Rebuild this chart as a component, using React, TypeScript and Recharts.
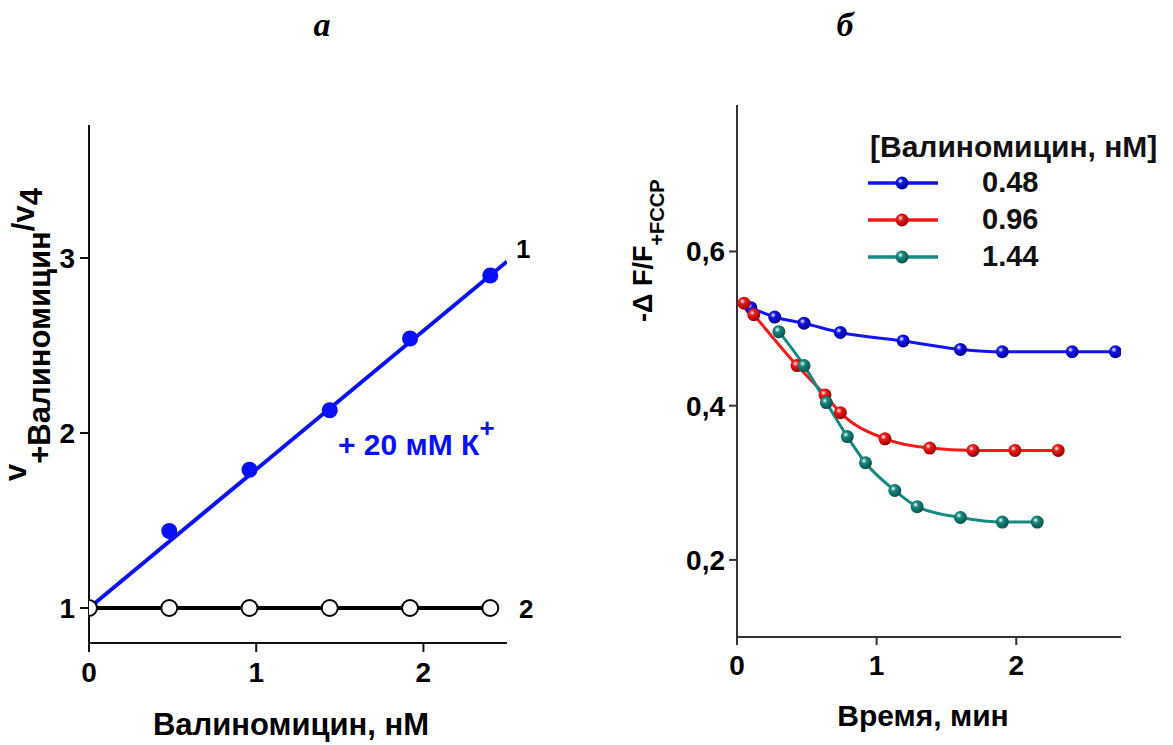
import React from 'react';
import { Line, LineChart, XAxis, YAxis } from 'recharts';

// panel a: ratio of rates vs valinomycin concentration
const valinoWithK = [0.48, 0.96, 1.44, 1.92, 2.4];
const ratioWithK = [1.44, 1.79, 2.13, 2.54, 2.9];
const fitValino = [0, 2.5];
const fitRatio = [1.0, 2.98];
const valinoNoK = [0, 0.48, 0.96, 1.44, 1.92, 2.4];
const ratioNoK = [1, 1, 1, 1, 1, 1];
const ticksA_X = [0, 1, 2];
const ticksA_Y = [1, 2, 3];

// panel б: -dF/F vs time
const time048 = [0.1, 0.27, 0.48, 0.74, 1.19, 1.6, 1.9, 2.4, 2.71];
const signal048 = [0.527, 0.515, 0.507, 0.495, 0.484, 0.473, 0.47, 0.47, 0.47];
const time096 = [0.05, 0.12, 0.43, 0.63, 0.74, 1.06, 1.38, 1.69, 1.99, 2.3];
const signal096 = [0.533, 0.518, 0.452, 0.414, 0.391, 0.357, 0.345, 0.342, 0.342, 0.342];
const time144 = [0.3, 0.48, 0.64, 0.79, 0.92, 1.13, 1.29, 1.6, 1.9, 2.15];
const signal144 = [0.496, 0.452, 0.404, 0.36, 0.326, 0.29, 0.269, 0.255, 0.249, 0.249];
const ticksB_X = [0, 1, 2];
const ticksB_Y = [0.2, 0.4, 0.6];
const seriesLabels = ['0.48', '0.96', '1.44'];

const zip = (xs: number[], ys: number[]) => xs.map((x, i) => ({ x, y: ys[i] }));

const FONT = '"Liberation Sans", Arial, sans-serif';
const BLUE_A = '#0a10f5';
const COLORS = ['#1414f0', '#f51a1a', '#168a80'];
const SHADE = ['#00007a', '#8a0000', '#064a44'];

const fmtComma = (v: number) => v.toFixed(1).replace('.', ',');

function XTick(props: any) {
  const { x, y, payload } = props;
  return (
    <text x={x} y={y + 24} textAnchor="middle" fontFamily={FONT} fontWeight={700} fontSize={28} fill="#000">
      {payload.value}
    </text>
  );
}

function YTick(props: any) {
  const { x, y, payload, comma } = props;
  return (
    <text x={x} y={y + 10} textAnchor="end" fontFamily={FONT} fontWeight={700} fontSize={28} fill="#000">
      {comma ? fmtComma(payload.value) : payload.value}
    </text>
  );
}

function sphereDot(idx: number, r: number) {
  return (props: any) => {
    const { cx, cy, index } = props;
    if (cx == null || cy == null) return <g key={`e${idx}-${index}`} />;
    return (
      <circle key={`d${idx}-${index}`} cx={cx} cy={cy} r={r} fill={`url(#sph${idx})`} />
    );
  };
}

function Gradients() {
  return (
    <svg width={0} height={0} style={{ position: 'absolute' }}>
      <defs>
        {COLORS.map((c, i) => (
          <radialGradient key={c} id={`sph${i}`} cx="38%" cy="35%" r="70%">
            <stop offset="0%" stopColor="#ffffff" stopOpacity={0.95} />
            <stop offset="30%" stopColor={c} />
            <stop offset="100%" stopColor={SHADE[i]} />
          </radialGradient>
        ))}
      </defs>
    </svg>
  );
}

function LegendBox() {
  return (
    <div style={{ position: 'absolute', left: 864, top: 130, fontFamily: FONT, fontWeight: 700, color: '#111' }}>
      <div style={{ fontSize: 30, lineHeight: '34px', marginLeft: 6 }}>[Валиномицин, нМ]</div>
      {seriesLabels.map((lab, i) => (
        <div key={lab} style={{ display: 'flex', alignItems: 'center', height: 37 }}>
          <svg width={76} height={16}>
            <line x1={4} y1={8} x2={74} y2={8} stroke={COLORS[i]} strokeWidth={3.5} />
            <circle cx={38} cy={8} r={6.5} fill={`url(#sph${i})`} />
          </svg>
          <span style={{ fontSize: 29, marginLeft: 42 }}>{lab}</span>
        </div>
      ))}
    </div>
  );
}

export default function App() {
  const axisLine = { stroke: '#111', strokeWidth: 2 };
  const axisLineB = { stroke: '#333', strokeWidth: 2 };
  return (
    <div style={{ position: 'absolute', left: 0, top: 0, width: 1173, height: 745, background: '#fff' }}>
      <Gradients />
      <div style={{ position: 'absolute', left: 0, top: 0 }}>
        <LineChart width={600} height={745} margin={{ top: 125, right: 93, bottom: 42, left: 29 }}>
          <XAxis
            type="number"
            dataKey="x"
            domain={[0, 2.5]}
            ticks={ticksA_X}
            allowDataOverflow
            height={60}
            tickSize={9}
            tickMargin={6}
            axisLine={axisLine}
            tickLine={axisLine}
            tick={<XTick />}
          />
          <YAxis
            type="number"
            dataKey="y"
            domain={[0.8, 3.76]}
            ticks={ticksA_Y}
            allowDataOverflow
            width={60}
            tickSize={9}
            tickMargin={5}
            axisLine={axisLine}
            tickLine={axisLine}
            tick={<YTick />}
          />
          <Line
            data={zip(fitValino, fitRatio)}
            dataKey="y"
            type="linear"
            stroke={BLUE_A}
            strokeWidth={4}
            dot={false}
            isAnimationActive={false}
          />
          <Line
            data={zip(valinoWithK, ratioWithK)}
            dataKey="y"
            stroke="none"
            dot={{ r: 8, fill: BLUE_A, stroke: BLUE_A, strokeWidth: 0 }}
            isAnimationActive={false}
          />
          <Line
            data={zip(valinoNoK, ratioNoK)}
            dataKey="y"
            type="linear"
            stroke="#000"
            strokeWidth={4}
            dot={{ r: 8, fill: '#fff', stroke: '#000', strokeWidth: 2 }}
            isAnimationActive={false}
          />
        </LineChart>
      </div>

      <div style={{ position: 'absolute', left: 600, top: 0 }}>
        <LineChart width={573} height={745} margin={{ top: 105, right: 52, bottom: 58, left: 67 }}>
          <XAxis
            type="number"
            dataKey="x"
            domain={[0, 2.75]}
            ticks={ticksB_X}
            allowDataOverflow
            height={50}
            tickSize={8}
            tickMargin={6}
            axisLine={axisLineB}
            tickLine={axisLineB}
            tick={<XTick />}
          />
          <YAxis
            type="number"
            dataKey="y"
            domain={[0.1, 0.79]}
            ticks={ticksB_Y}
            allowDataOverflow
            width={70}
            tickSize={8}
            tickMargin={4}
            axisLine={axisLineB}
            tickLine={axisLineB}
            tick={<YTick comma />}
          />
          <Line
            data={zip(time048, signal048)}
            dataKey="y"
            type="monotone"
            stroke={COLORS[0]}
            strokeWidth={3}
            dot={sphereDot(0, 6.5)}
            isAnimationActive={false}
          />
          <Line
            data={zip(time096, signal096)}
            dataKey="y"
            type="monotone"
            stroke={COLORS[1]}
            strokeWidth={3}
            dot={sphereDot(1, 6.5)}
            isAnimationActive={false}
          />
          <Line
            data={zip(time144, signal144)}
            dataKey="y"
            type="monotone"
            stroke={COLORS[2]}
            strokeWidth={3}
            dot={sphereDot(2, 6.5)}
            isAnimationActive={false}
          />
        </LineChart>
      </div>

      <LegendBox />

      <svg
        width={1173}
        height={745}
        style={{ position: 'absolute', left: 0, top: 0, pointerEvents: 'none', overflow: 'visible' }}
      >
        <g fontFamily='"Liberation Serif", "Times New Roman", serif' fontStyle="italic" fontWeight={700} fontSize={34} fill="#000">
          <text x={322} y={36} textAnchor="middle">а</text>
          <text x={845} y={36} textAnchor="middle">б</text>
        </g>
        <g fontFamily={FONT} fontWeight={700} fill="#000">
          <text transform="translate(26, 481) rotate(-90)" fontSize={31}>
            v<tspan dy={24}>+Валиномицин</tspan>
            <tspan dy={-16}>/v</tspan>
            <tspan dy={8}>4</tspan>
          </text>
          <text x={291} y={735} fontSize={31} textAnchor="middle">Валиномицин, нМ</text>
          <text x={516} y={258} fontSize={26}>1</text>
          <text x={519} y={618} fontSize={26}>2</text>
          <text x={338} y={455} fontSize={30} fill={BLUE_A}>
            + 20 мМ К<tspan dy={-18} fontSize={26}>+</tspan>
          </text>
          <text transform="translate(652, 322) rotate(-90)" fontSize={27}>
            -Δ F/F<tspan dy={12} fontSize={20}>+FCCP</tspan>
          </text>
          <text x={923} y={726} fontSize={30} textAnchor="middle">Время, мин</text>
        </g>
      </svg>
    </div>
  );
}
